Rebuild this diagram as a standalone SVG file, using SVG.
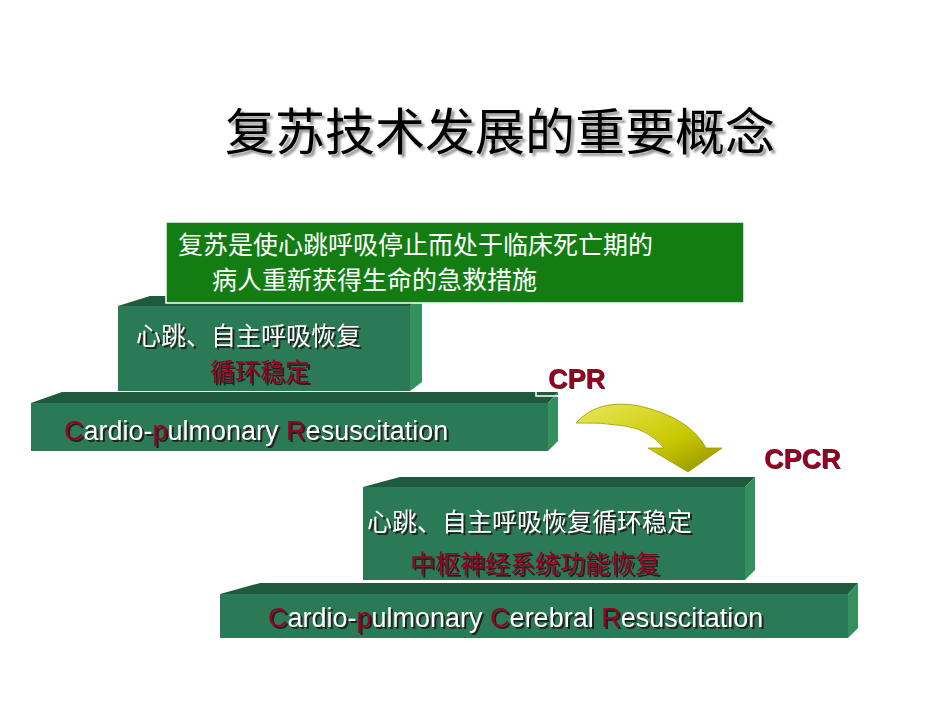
<svg xmlns="http://www.w3.org/2000/svg" width="950" height="713" viewBox="0 0 950 713">
<defs>
<style>
.f{fill:#2b7a56}.t{fill:#1f5a3e}.s{fill:#34905f}
.w{fill:#fff;font-family:"Noto Sans CJK SC",sans-serif;font-size:25px}
.e{fill:#fff;font-family:"Liberation Sans",Arial,sans-serif;font-size:27px}
.r{fill:#9a0022}
.sh{filter:drop-shadow(2px 2px 0 #222)}
</style>
<linearGradient id="ag" x1="0" y1="0" x2="1" y2="1"><stop offset="0" stop-color="#e8e85a"/><stop offset="0.6" stop-color="#c8c800"/><stop offset="1" stop-color="#8e8e00"/></linearGradient>
</defs>
<rect width="950" height="713" fill="#fff"/>
<text x="225" y="150" font-family="Noto Sans CJK SC,sans-serif" font-size="50" fill="#000" style="filter:drop-shadow(3px 3px 1px #999)">复苏技术发展的重要概念</text>
<g id="block-cpr-base">
<polygon class="t" points="31,403 62,392 558,392 548,403"/>
<polygon class="s" points="548,403 558,392 558,441 548,451"/>
<rect class="f" x="31" y="403" width="517" height="48"/>
<text class="e sh" x="64" y="440"><tspan class="r">C</tspan>ardio-<tspan class="r">p</tspan>ulmonary <tspan class="r">R</tspan>esuscitation</text>
</g>
<g id="block-cpr-top">
<polygon class="t" points="118,306 150,296 422,296 410,306"/>
<polygon class="s" points="410,306 422,296 422,382 410,391"/>
<rect class="f" x="118" y="306" width="292" height="85"/>
<text class="w sh" x="136" y="345">心跳、自主呼吸恢复</text>
<text class="w sh" x="210" y="381"><tspan class="r">循环稳定</tspan></text>
</g>
<g id="definition">
<rect x="166" y="222" width="578" height="81" fill="#137d13" stroke="#fff" stroke-width="1.5"/>
<text class="w" x="178" y="254">复苏是使心跳呼吸停止而处于临床死亡期的</text>
<text class="w" x="212" y="289">病人重新获得生命的急救措施</text>
</g>
<g id="block-cpcr-top">
<polygon class="t" points="363,487 400,477 755,477 745,487"/>
<polygon class="s" points="745,487 755,477 755,570 745,580"/>
<rect class="f" x="363" y="487" width="382" height="93"/>
<text class="w sh" x="367" y="531">心跳、自主呼吸恢复循环稳定</text>
<text class="w sh" x="410" y="573"><tspan class="r">中枢神经系统功能恢复</tspan></text>
</g>
<g id="block-cpcr-base">
<polygon class="t" points="220,594 260,583 858,583 848,594"/>
<polygon class="s" points="848,594 858,583 858,628 848,638"/>
<rect class="f" x="220" y="594" width="628" height="44"/>
<text class="e sh" x="268" y="627"><tspan class="r">C</tspan>ardio-<tspan class="r">p</tspan>ulmonary <tspan class="r">C</tspan>erebral <tspan class="r">R</tspan>esuscitation</text>
</g>
<g id="connectors">
<path d="M536,380 L536,396 L558,396" fill="none" stroke="#fff" stroke-width="1.5"/>
<path d="M575,418 Q600,400 640,408 Q690,418 600,418 Z" fill="none"/>
<path d="M576,423 Q598,398 640,406 Q690,418 706,448 L722,448 L688,472 L648,448 L664,448 Q650,430 625,426 Q600,422 576,423 Z" fill="url(#ag)" stroke="#9a9a00" stroke-width="0.8"/>
<text x="548" y="388" font-family="Liberation Sans,Arial,sans-serif" font-size="27" font-weight="bold" fill="#9a0022" style="filter:drop-shadow(1px 1px 0 #333)">CPR</text>
<text x="764" y="468" font-family="Liberation Sans,Arial,sans-serif" font-size="27" font-weight="bold" fill="#9a0022" style="filter:drop-shadow(1px 1px 0 #333)">CPCR</text>
</g>
</svg>
